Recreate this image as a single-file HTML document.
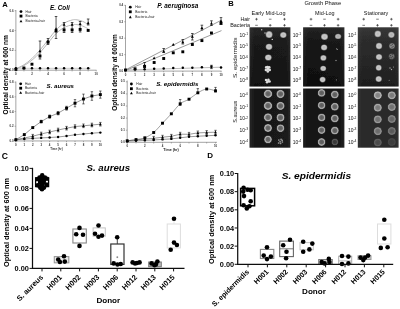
<!DOCTYPE html>
<html><head><meta charset="utf-8"><title>Figure</title>
<style>
html,body{margin:0;padding:0;background:#fff;}
body{width:400px;height:309px;overflow:hidden;font-family:'Liberation Sans', sans-serif;}
svg{display:block;}
svg text{font-family:'Liberation Sans', sans-serif;}
</style></head>
<body>
<svg width="400" height="309" viewBox="0 0 400 309">
<defs><filter id="soft" x="0" y="0" width="400" height="309" filterUnits="userSpaceOnUse"><feGaussianBlur stdDeviation="0.38"/></filter></defs>
<g filter="url(#soft)">
<rect width="400" height="309" fill="#fff"/>
<g id="panelA">
<text x="2.2" y="7.2" font-size="7.6" font-weight="bold" font-style="normal" text-anchor="start" fill="#000" >A</text>
<text x="8.0" y="74.8" font-size="6.6" font-weight="bold" font-style="normal" text-anchor="middle" fill="#000" transform="rotate(-90 8.0 74.8)" >Optical density at 600 nm</text>
<text x="117.3" y="72.4" font-size="6.5" font-weight="bold" font-style="normal" text-anchor="middle" fill="#000" transform="rotate(-90 117.3 72.4)" >Optical density at 600nm</text>
<line x1="15.9" y1="10" x2="15.9" y2="71.4" stroke="#666" stroke-width="0.6" />
<line x1="14.9" y1="70.2" x2="96.5" y2="70.2" stroke="#666" stroke-width="0.6" />
<line x1="14.6" y1="70.2" x2="15.9" y2="70.2" stroke="#666" stroke-width="0.5" />
<text x="13.600000000000001" y="71.2" font-size="2.9" font-weight="bold" font-style="normal" text-anchor="end" fill="#333" >0.0</text>
<line x1="14.6" y1="50.400000000000006" x2="15.9" y2="50.400000000000006" stroke="#666" stroke-width="0.5" />
<text x="13.600000000000001" y="51.400000000000006" font-size="2.9" font-weight="bold" font-style="normal" text-anchor="end" fill="#333" >0.2</text>
<line x1="14.6" y1="30.6" x2="15.9" y2="30.6" stroke="#666" stroke-width="0.5" />
<text x="13.600000000000001" y="31.6" font-size="2.9" font-weight="bold" font-style="normal" text-anchor="end" fill="#333" >0.4</text>
<line x1="14.6" y1="10.800000000000004" x2="15.9" y2="10.800000000000004" stroke="#666" stroke-width="0.5" />
<text x="13.600000000000001" y="11.800000000000004" font-size="2.9" font-weight="bold" font-style="normal" text-anchor="end" fill="#333" >0.6</text>
<line x1="15.9" y1="70.2" x2="15.9" y2="71.4" stroke="#666" stroke-width="0.5" />
<line x1="23.93" y1="70.2" x2="23.93" y2="71.4" stroke="#666" stroke-width="0.5" />
<line x1="31.96" y1="70.2" x2="31.96" y2="71.4" stroke="#666" stroke-width="0.5" />
<line x1="39.989999999999995" y1="70.2" x2="39.989999999999995" y2="71.4" stroke="#666" stroke-width="0.5" />
<line x1="48.019999999999996" y1="70.2" x2="48.019999999999996" y2="71.4" stroke="#666" stroke-width="0.5" />
<line x1="56.05" y1="70.2" x2="56.05" y2="71.4" stroke="#666" stroke-width="0.5" />
<line x1="64.08" y1="70.2" x2="64.08" y2="71.4" stroke="#666" stroke-width="0.5" />
<line x1="72.11" y1="70.2" x2="72.11" y2="71.4" stroke="#666" stroke-width="0.5" />
<line x1="80.14" y1="70.2" x2="80.14" y2="71.4" stroke="#666" stroke-width="0.5" />
<line x1="88.17" y1="70.2" x2="88.17" y2="71.4" stroke="#666" stroke-width="0.5" />
<line x1="96.2" y1="70.2" x2="96.2" y2="71.4" stroke="#666" stroke-width="0.5" />
<text x="15.9" y="75.2" font-size="2.9" font-weight="bold" font-style="normal" text-anchor="middle" fill="#333" >0</text>
<text x="31.96" y="75.2" font-size="2.9" font-weight="bold" font-style="normal" text-anchor="middle" fill="#333" >2</text>
<text x="48.019999999999996" y="75.2" font-size="2.9" font-weight="bold" font-style="normal" text-anchor="middle" fill="#333" >4</text>
<text x="64.08" y="75.2" font-size="2.9" font-weight="bold" font-style="normal" text-anchor="middle" fill="#333" >6</text>
<text x="80.14" y="75.2" font-size="2.9" font-weight="bold" font-style="normal" text-anchor="middle" fill="#333" >8</text>
<text x="96.2" y="75.2" font-size="2.9" font-weight="bold" font-style="normal" text-anchor="middle" fill="#333" >10</text>
<text x="59.8" y="10.3" font-size="6.35" font-weight="bold" font-style="italic" text-anchor="middle" fill="#000" >E. Coli</text>
<circle cx="21.00" cy="11.60" r="1.4" fill="#000" />
<rect x="19.60" y="14.70" width="2.8" height="2.8" fill="#000"/>
<path d="M21.00 19.77 L22.43 22.37 L19.57 22.37 Z" fill="#000"/>
<text x="25.5" y="12.7" font-size="3.3" font-weight="normal" font-style="normal" text-anchor="start" fill="#222" >Hair</text>
<text x="25.5" y="17.200000000000003" font-size="3.3" font-weight="normal" font-style="normal" text-anchor="start" fill="#222" >Bacteria</text>
<text x="25.5" y="22.3" font-size="3.3" font-weight="normal" font-style="normal" text-anchor="start" fill="#222" >Bacteria+hair</text>
<path d="M15.90 68.60 C17.24 67.97 21.25 66.48 23.93 64.80 C26.61 63.12 29.28 60.97 31.96 58.50 C34.64 56.03 37.31 53.08 39.99 50.00 C42.67 46.92 45.34 43.33 48.02 40.00 C50.70 36.67 53.37 32.80 56.05 30.00 C58.73 27.20 61.40 24.87 64.08 23.20 C66.76 21.53 69.97 20.57 72.11 20.00 C74.25 19.43 75.19 19.58 76.93 19.80 C78.67 20.02 80.68 20.52 82.55 21.30 C84.42 22.08 87.23 23.97 88.17 24.50" fill="none" stroke="#b8b8b8" stroke-width="1.0"/>
<path d="M15.90 68.80 C17.24 68.27 21.25 67.03 23.93 65.60 C26.61 64.17 29.28 62.37 31.96 60.20 C34.64 58.03 37.31 55.47 39.99 52.60 C42.67 49.73 45.34 46.17 48.02 43.00 C50.70 39.83 53.37 36.17 56.05 33.60 C58.73 31.03 61.40 29.07 64.08 27.60 C66.76 26.13 69.97 25.30 72.11 24.80 C74.25 24.30 75.19 24.40 76.93 24.60 C78.67 24.80 80.68 25.30 82.55 26.00 C84.42 26.70 87.23 28.33 88.17 28.80" fill="none" stroke="#b8b8b8" stroke-width="1.0"/>
<line x1="15.9" y1="68.3" x2="90.57900000000001" y2="68.3" stroke="#999" stroke-width="0.5" />
<line x1="39.989999999999995" y1="41" x2="39.989999999999995" y2="59" stroke="#111" stroke-width="0.7" />
<line x1="38.69" y1="41" x2="41.28999999999999" y2="41" stroke="#111" stroke-width="0.7" />
<line x1="38.69" y1="59" x2="41.28999999999999" y2="59" stroke="#111" stroke-width="0.7" />
<line x1="48.019999999999996" y1="38.5" x2="48.019999999999996" y2="44.5" stroke="#111" stroke-width="0.7" />
<line x1="46.72" y1="38.5" x2="49.31999999999999" y2="38.5" stroke="#111" stroke-width="0.7" />
<line x1="46.72" y1="44.5" x2="49.31999999999999" y2="44.5" stroke="#111" stroke-width="0.7" />
<line x1="56.05" y1="16.5" x2="56.05" y2="38.5" stroke="#111" stroke-width="0.7" />
<line x1="54.75" y1="16.5" x2="57.349999999999994" y2="16.5" stroke="#111" stroke-width="0.7" />
<line x1="54.75" y1="38.5" x2="57.349999999999994" y2="38.5" stroke="#111" stroke-width="0.7" />
<line x1="64.08" y1="22.5" x2="64.08" y2="32.5" stroke="#111" stroke-width="0.7" />
<line x1="62.78" y1="22.5" x2="65.38" y2="22.5" stroke="#111" stroke-width="0.7" />
<line x1="62.78" y1="32.5" x2="65.38" y2="32.5" stroke="#111" stroke-width="0.7" />
<line x1="72.11" y1="22.5" x2="72.11" y2="32.5" stroke="#111" stroke-width="0.7" />
<line x1="70.81" y1="22.5" x2="73.41" y2="22.5" stroke="#111" stroke-width="0.7" />
<line x1="70.81" y1="32.5" x2="73.41" y2="32.5" stroke="#111" stroke-width="0.7" />
<line x1="80.14" y1="21.5" x2="80.14" y2="32" stroke="#111" stroke-width="0.7" />
<line x1="78.84" y1="21.5" x2="81.44" y2="21.5" stroke="#111" stroke-width="0.7" />
<line x1="78.84" y1="32" x2="81.44" y2="32" stroke="#111" stroke-width="0.7" />
<line x1="88.17" y1="19" x2="88.17" y2="25" stroke="#111" stroke-width="0.7" />
<line x1="86.87" y1="19" x2="89.47" y2="19" stroke="#111" stroke-width="0.7" />
<line x1="86.87" y1="25" x2="89.47" y2="25" stroke="#111" stroke-width="0.7" />
<circle cx="15.90" cy="68.30" r="1.25" fill="#000" />
<circle cx="23.93" cy="68.30" r="1.25" fill="#000" />
<circle cx="31.96" cy="68.30" r="1.25" fill="#000" />
<circle cx="39.99" cy="68.30" r="1.25" fill="#000" />
<circle cx="48.02" cy="68.30" r="1.25" fill="#000" />
<circle cx="56.05" cy="68.30" r="1.25" fill="#000" />
<circle cx="64.08" cy="68.30" r="1.25" fill="#000" />
<circle cx="72.11" cy="68.30" r="1.25" fill="#000" />
<circle cx="80.14" cy="68.30" r="1.25" fill="#000" />
<circle cx="88.17" cy="68.30" r="1.25" fill="#000" />
<rect x="14.45" y="67.95" width="2.9" height="2.9" fill="#000"/>
<rect x="22.48" y="66.55" width="2.9" height="2.9" fill="#000"/>
<rect x="30.51" y="62.75" width="2.9" height="2.9" fill="#000"/>
<rect x="38.54" y="54.55" width="2.9" height="2.9" fill="#000"/>
<rect x="46.57" y="40.75" width="2.9" height="2.9" fill="#000"/>
<rect x="54.60" y="29.55" width="2.9" height="2.9" fill="#000"/>
<rect x="62.63" y="28.45" width="2.9" height="2.9" fill="#000"/>
<rect x="70.66" y="28.45" width="2.9" height="2.9" fill="#000"/>
<rect x="78.69" y="27.95" width="2.9" height="2.9" fill="#000"/>
<rect x="86.72" y="28.95" width="2.9" height="2.9" fill="#000"/>
<path d="M39.99 49.52 L41.47 52.22 L38.50 52.22 Z" fill="#000"/>
<path d="M48.02 39.52 L49.50 42.22 L46.53 42.22 Z" fill="#000"/>
<path d="M56.05 27.32 L57.53 30.02 L54.56 30.02 Z" fill="#000"/>
<path d="M64.08 23.12 L65.56 25.82 L62.59 25.82 Z" fill="#000"/>
<path d="M72.11 23.12 L73.59 25.82 L70.62 25.82 Z" fill="#000"/>
<path d="M80.14 22.41 L81.62 25.11 L78.66 25.11 Z" fill="#000"/>
<path d="M88.17 21.52 L89.66 24.21 L86.69 24.21 Z" fill="#000"/>
<line x1="125.5" y1="5" x2="125.5" y2="72.3" stroke="#666" stroke-width="0.6" />
<line x1="124.5" y1="71.1" x2="221.6" y2="71.1" stroke="#666" stroke-width="0.6" />
<line x1="124.2" y1="71.1" x2="125.5" y2="71.1" stroke="#666" stroke-width="0.5" />
<text x="123.2" y="72.1" font-size="2.9" font-weight="bold" font-style="normal" text-anchor="end" fill="#333" >0.0</text>
<line x1="124.2" y1="54.64999999999999" x2="125.5" y2="54.64999999999999" stroke="#666" stroke-width="0.5" />
<text x="123.2" y="55.64999999999999" font-size="2.9" font-weight="bold" font-style="normal" text-anchor="end" fill="#333" >0.1</text>
<line x1="124.2" y1="38.199999999999996" x2="125.5" y2="38.199999999999996" stroke="#666" stroke-width="0.5" />
<text x="123.2" y="39.199999999999996" font-size="2.9" font-weight="bold" font-style="normal" text-anchor="end" fill="#333" >0.2</text>
<line x1="124.2" y1="21.749999999999993" x2="125.5" y2="21.749999999999993" stroke="#666" stroke-width="0.5" />
<text x="123.2" y="22.749999999999993" font-size="2.9" font-weight="bold" font-style="normal" text-anchor="end" fill="#333" >0.3</text>
<line x1="124.2" y1="5.299999999999997" x2="125.5" y2="5.299999999999997" stroke="#666" stroke-width="0.5" />
<text x="123.2" y="6.299999999999997" font-size="2.9" font-weight="bold" font-style="normal" text-anchor="end" fill="#333" >0.4</text>
<line x1="125.5" y1="71.1" x2="125.5" y2="72.3" stroke="#666" stroke-width="0.5" />
<text x="125.5" y="75.89999999999999" font-size="2.9" font-weight="bold" font-style="normal" text-anchor="middle" fill="#333" >0</text>
<line x1="135.05" y1="71.1" x2="135.05" y2="72.3" stroke="#666" stroke-width="0.5" />
<text x="135.05" y="75.89999999999999" font-size="2.9" font-weight="bold" font-style="normal" text-anchor="middle" fill="#333" >1</text>
<line x1="144.6" y1="71.1" x2="144.6" y2="72.3" stroke="#666" stroke-width="0.5" />
<text x="144.6" y="75.89999999999999" font-size="2.9" font-weight="bold" font-style="normal" text-anchor="middle" fill="#333" >2</text>
<line x1="154.15" y1="71.1" x2="154.15" y2="72.3" stroke="#666" stroke-width="0.5" />
<text x="154.15" y="75.89999999999999" font-size="2.9" font-weight="bold" font-style="normal" text-anchor="middle" fill="#333" >3</text>
<line x1="163.7" y1="71.1" x2="163.7" y2="72.3" stroke="#666" stroke-width="0.5" />
<text x="163.7" y="75.89999999999999" font-size="2.9" font-weight="bold" font-style="normal" text-anchor="middle" fill="#333" >4</text>
<line x1="173.25" y1="71.1" x2="173.25" y2="72.3" stroke="#666" stroke-width="0.5" />
<text x="173.25" y="75.89999999999999" font-size="2.9" font-weight="bold" font-style="normal" text-anchor="middle" fill="#333" >5</text>
<line x1="182.8" y1="71.1" x2="182.8" y2="72.3" stroke="#666" stroke-width="0.5" />
<text x="182.8" y="75.89999999999999" font-size="2.9" font-weight="bold" font-style="normal" text-anchor="middle" fill="#333" >6</text>
<line x1="192.35000000000002" y1="71.1" x2="192.35000000000002" y2="72.3" stroke="#666" stroke-width="0.5" />
<text x="192.35000000000002" y="75.89999999999999" font-size="2.9" font-weight="bold" font-style="normal" text-anchor="middle" fill="#333" >7</text>
<line x1="201.9" y1="71.1" x2="201.9" y2="72.3" stroke="#666" stroke-width="0.5" />
<text x="201.9" y="75.89999999999999" font-size="2.9" font-weight="bold" font-style="normal" text-anchor="middle" fill="#333" >8</text>
<line x1="211.45" y1="71.1" x2="211.45" y2="72.3" stroke="#666" stroke-width="0.5" />
<text x="211.45" y="75.89999999999999" font-size="2.9" font-weight="bold" font-style="normal" text-anchor="middle" fill="#333" >9</text>
<line x1="221.0" y1="71.1" x2="221.0" y2="72.3" stroke="#666" stroke-width="0.5" />
<text x="221.0" y="75.89999999999999" font-size="2.9" font-weight="bold" font-style="normal" text-anchor="middle" fill="#333" >10</text>
<text x="157.3" y="7.5" font-size="6.4" font-weight="bold" font-style="italic" text-anchor="start" fill="#000" >P. aeruginosa</text>
<circle cx="130.30" cy="7.20" r="1.4" fill="#000" />
<rect x="128.90" y="10.40" width="2.8" height="2.8" fill="#000"/>
<path d="M130.30 15.57 L131.73 18.17 L128.87 18.17 Z" fill="#000"/>
<text x="135.2" y="8.3" font-size="3.3" font-weight="normal" font-style="normal" text-anchor="start" fill="#222" >Hair</text>
<text x="135.2" y="12.9" font-size="3.3" font-weight="normal" font-style="normal" text-anchor="start" fill="#222" >Bacteria</text>
<text x="135.2" y="18.1" font-size="3.3" font-weight="normal" font-style="normal" text-anchor="start" fill="#222" >Bacteria+hair</text>
<line x1="125.7" y1="69.8" x2="221.5" y2="20.1" stroke="#555" stroke-width="0.6" />
<line x1="126.0" y1="70.3" x2="221.5" y2="30.6" stroke="#555" stroke-width="0.6" />
<line x1="125.5" y1="70.0" x2="221.5" y2="67.2" stroke="#777" stroke-width="0.5" />
<line x1="144.6" y1="62.5" x2="144.6" y2="67.5" stroke="#111" stroke-width="0.7" />
<line x1="143.29999999999998" y1="62.5" x2="145.9" y2="62.5" stroke="#111" stroke-width="0.7" />
<line x1="143.29999999999998" y1="67.5" x2="145.9" y2="67.5" stroke="#111" stroke-width="0.7" />
<line x1="163.7" y1="48.5" x2="163.7" y2="52.5" stroke="#111" stroke-width="0.7" />
<line x1="162.39999999999998" y1="48.5" x2="165.0" y2="48.5" stroke="#111" stroke-width="0.7" />
<line x1="162.39999999999998" y1="52.5" x2="165.0" y2="52.5" stroke="#111" stroke-width="0.7" />
<line x1="182.8" y1="39.5" x2="182.8" y2="44" stroke="#111" stroke-width="0.7" />
<line x1="181.5" y1="39.5" x2="184.10000000000002" y2="39.5" stroke="#111" stroke-width="0.7" />
<line x1="181.5" y1="44" x2="184.10000000000002" y2="44" stroke="#111" stroke-width="0.7" />
<line x1="192.35000000000002" y1="33.5" x2="192.35000000000002" y2="40" stroke="#111" stroke-width="0.7" />
<line x1="191.05" y1="33.5" x2="193.65000000000003" y2="33.5" stroke="#111" stroke-width="0.7" />
<line x1="191.05" y1="40" x2="193.65000000000003" y2="40" stroke="#111" stroke-width="0.7" />
<line x1="201.9" y1="25.2" x2="201.9" y2="30" stroke="#111" stroke-width="0.7" />
<line x1="200.6" y1="25.2" x2="203.20000000000002" y2="25.2" stroke="#111" stroke-width="0.7" />
<line x1="200.6" y1="30" x2="203.20000000000002" y2="30" stroke="#111" stroke-width="0.7" />
<line x1="211.45" y1="20.8" x2="211.45" y2="25.5" stroke="#111" stroke-width="0.7" />
<line x1="210.14999999999998" y1="20.8" x2="212.75" y2="20.8" stroke="#111" stroke-width="0.7" />
<line x1="210.14999999999998" y1="25.5" x2="212.75" y2="25.5" stroke="#111" stroke-width="0.7" />
<line x1="221.0" y1="17.6" x2="221.0" y2="24.5" stroke="#111" stroke-width="0.7" />
<line x1="219.7" y1="17.6" x2="222.3" y2="17.6" stroke="#111" stroke-width="0.7" />
<line x1="219.7" y1="24.5" x2="222.3" y2="24.5" stroke="#111" stroke-width="0.7" />
<line x1="211.45" y1="65.3" x2="211.45" y2="68.6" stroke="#111" stroke-width="0.7" />
<line x1="210.14999999999998" y1="65.3" x2="212.75" y2="65.3" stroke="#111" stroke-width="0.7" />
<line x1="210.14999999999998" y1="68.6" x2="212.75" y2="68.6" stroke="#111" stroke-width="0.7" />
<circle cx="125.50" cy="70.00" r="1.25" fill="#000" />
<circle cx="135.05" cy="69.50" r="1.25" fill="#000" />
<circle cx="144.60" cy="69.20" r="1.25" fill="#000" />
<circle cx="154.15" cy="68.80" r="1.25" fill="#000" />
<circle cx="163.70" cy="68.40" r="1.25" fill="#000" />
<circle cx="173.25" cy="68.00" r="1.25" fill="#000" />
<circle cx="182.80" cy="67.70" r="1.25" fill="#000" />
<circle cx="192.35" cy="67.70" r="1.25" fill="#000" />
<circle cx="201.90" cy="67.30" r="1.25" fill="#000" />
<circle cx="211.45" cy="66.80" r="1.25" fill="#000" />
<circle cx="221.00" cy="67.60" r="1.25" fill="#000" />
<rect x="124.05" y="68.55" width="2.9" height="2.9" fill="#000"/>
<rect x="133.60" y="67.35" width="2.9" height="2.9" fill="#000"/>
<rect x="143.15" y="64.95" width="2.9" height="2.9" fill="#000"/>
<rect x="152.70" y="61.05" width="2.9" height="2.9" fill="#000"/>
<rect x="162.25" y="57.05" width="2.9" height="2.9" fill="#000"/>
<rect x="171.80" y="51.35" width="2.9" height="2.9" fill="#000"/>
<rect x="181.35" y="50.35" width="2.9" height="2.9" fill="#000"/>
<rect x="190.90" y="43.05" width="2.9" height="2.9" fill="#000"/>
<rect x="200.45" y="39.15" width="2.9" height="2.9" fill="#000"/>
<rect x="210.00" y="31.55" width="2.9" height="2.9" fill="#000"/>
<rect x="219.55" y="21.85" width="2.9" height="2.9" fill="#000"/>
<path d="M144.60 63.81 L146.09 66.52 L143.11 66.52 Z" fill="#000"/>
<path d="M154.15 56.52 L155.64 59.22 L152.66 59.22 Z" fill="#000"/>
<path d="M163.70 49.72 L165.19 52.42 L162.21 52.42 Z" fill="#000"/>
<path d="M173.25 43.12 L174.74 45.82 L171.76 45.82 Z" fill="#000"/>
<path d="M182.80 40.52 L184.29 43.22 L181.31 43.22 Z" fill="#000"/>
<path d="M192.35 35.12 L193.84 37.82 L190.87 37.82 Z" fill="#000"/>
<path d="M201.90 26.41 L203.39 29.11 L200.41 29.11 Z" fill="#000"/>
<path d="M211.45 21.91 L212.94 24.61 L209.96 24.61 Z" fill="#000"/>
<path d="M221.00 19.52 L222.49 22.21 L219.51 22.21 Z" fill="#000"/>
<line x1="15.85" y1="81.5" x2="15.85" y2="142.14999999999998" stroke="#666" stroke-width="0.6" />
<line x1="14.85" y1="140.95" x2="101.2" y2="140.95" stroke="#666" stroke-width="0.6" />
<line x1="14.549999999999999" y1="140.95" x2="15.85" y2="140.95" stroke="#666" stroke-width="0.5" />
<text x="13.55" y="141.95" font-size="2.9" font-weight="bold" font-style="normal" text-anchor="end" fill="#333" >0.0</text>
<line x1="14.549999999999999" y1="126.24999999999999" x2="15.85" y2="126.24999999999999" stroke="#666" stroke-width="0.5" />
<text x="13.55" y="127.24999999999999" font-size="2.9" font-weight="bold" font-style="normal" text-anchor="end" fill="#333" >0.2</text>
<line x1="14.549999999999999" y1="111.54999999999998" x2="15.85" y2="111.54999999999998" stroke="#666" stroke-width="0.5" />
<text x="13.55" y="112.54999999999998" font-size="2.9" font-weight="bold" font-style="normal" text-anchor="end" fill="#333" >0.4</text>
<line x1="14.549999999999999" y1="96.85" x2="15.85" y2="96.85" stroke="#666" stroke-width="0.5" />
<text x="13.55" y="97.85" font-size="2.9" font-weight="bold" font-style="normal" text-anchor="end" fill="#333" >0.6</text>
<line x1="14.549999999999999" y1="82.14999999999998" x2="15.85" y2="82.14999999999998" stroke="#666" stroke-width="0.5" />
<text x="13.55" y="83.14999999999998" font-size="2.9" font-weight="bold" font-style="normal" text-anchor="end" fill="#333" >0.8</text>
<line x1="15.85" y1="140.95" x2="15.85" y2="142.14999999999998" stroke="#666" stroke-width="0.5" />
<text x="15.85" y="145.54999999999998" font-size="2.9" font-weight="bold" font-style="normal" text-anchor="middle" fill="#333" >0</text>
<line x1="24.299999999999997" y1="140.95" x2="24.299999999999997" y2="142.14999999999998" stroke="#666" stroke-width="0.5" />
<text x="24.299999999999997" y="145.54999999999998" font-size="2.9" font-weight="bold" font-style="normal" text-anchor="middle" fill="#333" >1</text>
<line x1="32.75" y1="140.95" x2="32.75" y2="142.14999999999998" stroke="#666" stroke-width="0.5" />
<text x="32.75" y="145.54999999999998" font-size="2.9" font-weight="bold" font-style="normal" text-anchor="middle" fill="#333" >2</text>
<line x1="41.199999999999996" y1="140.95" x2="41.199999999999996" y2="142.14999999999998" stroke="#666" stroke-width="0.5" />
<text x="41.199999999999996" y="145.54999999999998" font-size="2.9" font-weight="bold" font-style="normal" text-anchor="middle" fill="#333" >3</text>
<line x1="49.65" y1="140.95" x2="49.65" y2="142.14999999999998" stroke="#666" stroke-width="0.5" />
<text x="49.65" y="145.54999999999998" font-size="2.9" font-weight="bold" font-style="normal" text-anchor="middle" fill="#333" >4</text>
<line x1="58.1" y1="140.95" x2="58.1" y2="142.14999999999998" stroke="#666" stroke-width="0.5" />
<text x="58.1" y="145.54999999999998" font-size="2.9" font-weight="bold" font-style="normal" text-anchor="middle" fill="#333" >5</text>
<line x1="66.55" y1="140.95" x2="66.55" y2="142.14999999999998" stroke="#666" stroke-width="0.5" />
<text x="66.55" y="145.54999999999998" font-size="2.9" font-weight="bold" font-style="normal" text-anchor="middle" fill="#333" >6</text>
<line x1="74.99999999999999" y1="140.95" x2="74.99999999999999" y2="142.14999999999998" stroke="#666" stroke-width="0.5" />
<text x="74.99999999999999" y="145.54999999999998" font-size="2.9" font-weight="bold" font-style="normal" text-anchor="middle" fill="#333" >7</text>
<line x1="83.44999999999999" y1="140.95" x2="83.44999999999999" y2="142.14999999999998" stroke="#666" stroke-width="0.5" />
<text x="83.44999999999999" y="145.54999999999998" font-size="2.9" font-weight="bold" font-style="normal" text-anchor="middle" fill="#333" >8</text>
<line x1="91.89999999999999" y1="140.95" x2="91.89999999999999" y2="142.14999999999998" stroke="#666" stroke-width="0.5" />
<text x="91.89999999999999" y="145.54999999999998" font-size="2.9" font-weight="bold" font-style="normal" text-anchor="middle" fill="#333" >9</text>
<line x1="100.35" y1="140.95" x2="100.35" y2="142.14999999999998" stroke="#666" stroke-width="0.5" />
<text x="100.35" y="145.54999999999998" font-size="2.9" font-weight="bold" font-style="normal" text-anchor="middle" fill="#333" >10</text>
<text x="56.5" y="149.7" font-size="2.9" font-weight="bold" font-style="normal" text-anchor="middle" fill="#333" >Time (hr)</text>
<text x="60.3" y="87.5" font-size="6.1" font-weight="bold" font-style="italic" text-anchor="middle" fill="#000" >S. aureus</text>
<circle cx="20.70" cy="83.80" r="1.4" fill="#000" />
<rect x="19.30" y="86.80" width="2.8" height="2.8" fill="#000"/>
<path d="M20.70 91.17 L22.13 93.77 L19.27 93.77 Z" fill="#000"/>
<text x="24.9" y="84.89999999999999" font-size="3.3" font-weight="normal" font-style="normal" text-anchor="start" fill="#222" >Hair</text>
<text x="24.9" y="89.3" font-size="3.3" font-weight="normal" font-style="normal" text-anchor="start" fill="#222" >Bacteria</text>
<text x="24.9" y="93.69999999999999" font-size="3.3" font-weight="normal" font-style="normal" text-anchor="start" fill="#222" >Bacteria+hair</text>
<path d="M15.85 139.70 L24.30 134.60 L32.75 127.60 L41.20 121.60 L49.65 116.60 L58.10 113.20 L66.55 108.20 L75.00 103.20 L83.45 99.00 L91.90 96.00 L100.35 94.60" fill="none" stroke="#444" stroke-width="0.55"/>
<path d="M15.85 139.70 L24.30 138.00 L32.75 136.20 L41.20 134.00 L49.65 132.00 L58.10 130.00 L66.55 128.20 L75.00 126.60 L83.45 125.80 L91.90 125.00 L100.35 124.20" fill="none" stroke="#444" stroke-width="0.55"/>
<path d="M15.85 139.70 L24.30 139.10 L32.75 138.40 L41.20 137.90 L49.65 137.50 L58.10 137.00 L66.55 136.00 L75.00 134.80 L83.45 134.00 L91.90 133.20 L100.35 132.60" fill="none" stroke="#444" stroke-width="0.55"/>
<line x1="41.199999999999996" y1="120.3" x2="41.199999999999996" y2="122.89999999999999" stroke="#111" stroke-width="0.6" />
<line x1="39.99999999999999" y1="120.3" x2="42.4" y2="120.3" stroke="#111" stroke-width="0.6" />
<line x1="39.99999999999999" y1="122.89999999999999" x2="42.4" y2="122.89999999999999" stroke="#111" stroke-width="0.6" />
<line x1="49.65" y1="115.0" x2="49.65" y2="118.19999999999999" stroke="#111" stroke-width="0.6" />
<line x1="48.449999999999996" y1="115.0" x2="50.85" y2="115.0" stroke="#111" stroke-width="0.6" />
<line x1="48.449999999999996" y1="118.19999999999999" x2="50.85" y2="118.19999999999999" stroke="#111" stroke-width="0.6" />
<line x1="58.1" y1="111.60000000000001" x2="58.1" y2="114.8" stroke="#111" stroke-width="0.6" />
<line x1="56.9" y1="111.60000000000001" x2="59.300000000000004" y2="111.60000000000001" stroke="#111" stroke-width="0.6" />
<line x1="56.9" y1="114.8" x2="59.300000000000004" y2="114.8" stroke="#111" stroke-width="0.6" />
<line x1="66.55" y1="106.3" x2="66.55" y2="110.10000000000001" stroke="#111" stroke-width="0.6" />
<line x1="65.35" y1="106.3" x2="67.75" y2="106.3" stroke="#111" stroke-width="0.6" />
<line x1="65.35" y1="110.10000000000001" x2="67.75" y2="110.10000000000001" stroke="#111" stroke-width="0.6" />
<line x1="74.99999999999999" y1="99.60000000000001" x2="74.99999999999999" y2="106.8" stroke="#111" stroke-width="0.6" />
<line x1="73.79999999999998" y1="99.60000000000001" x2="76.19999999999999" y2="99.60000000000001" stroke="#111" stroke-width="0.6" />
<line x1="73.79999999999998" y1="106.8" x2="76.19999999999999" y2="106.8" stroke="#111" stroke-width="0.6" />
<line x1="83.44999999999999" y1="94.1" x2="83.44999999999999" y2="103.9" stroke="#111" stroke-width="0.6" />
<line x1="82.24999999999999" y1="94.1" x2="84.64999999999999" y2="94.1" stroke="#111" stroke-width="0.6" />
<line x1="82.24999999999999" y1="103.9" x2="84.64999999999999" y2="103.9" stroke="#111" stroke-width="0.6" />
<line x1="91.89999999999999" y1="91.7" x2="91.89999999999999" y2="100.3" stroke="#111" stroke-width="0.6" />
<line x1="90.69999999999999" y1="91.7" x2="93.1" y2="91.7" stroke="#111" stroke-width="0.6" />
<line x1="90.69999999999999" y1="100.3" x2="93.1" y2="100.3" stroke="#111" stroke-width="0.6" />
<line x1="100.35" y1="91.0" x2="100.35" y2="98.19999999999999" stroke="#111" stroke-width="0.6" />
<line x1="99.14999999999999" y1="91.0" x2="101.55" y2="91.0" stroke="#111" stroke-width="0.6" />
<line x1="99.14999999999999" y1="98.19999999999999" x2="101.55" y2="98.19999999999999" stroke="#111" stroke-width="0.6" />
<line x1="32.75" y1="134.39999999999998" x2="32.75" y2="138.0" stroke="#111" stroke-width="0.6" />
<line x1="31.55" y1="134.39999999999998" x2="33.95" y2="134.39999999999998" stroke="#111" stroke-width="0.6" />
<line x1="31.55" y1="138.0" x2="33.95" y2="138.0" stroke="#111" stroke-width="0.6" />
<line x1="41.199999999999996" y1="132.2" x2="41.199999999999996" y2="135.8" stroke="#111" stroke-width="0.6" />
<line x1="39.99999999999999" y1="132.2" x2="42.4" y2="132.2" stroke="#111" stroke-width="0.6" />
<line x1="39.99999999999999" y1="135.8" x2="42.4" y2="135.8" stroke="#111" stroke-width="0.6" />
<line x1="49.65" y1="130.2" x2="49.65" y2="133.8" stroke="#111" stroke-width="0.6" />
<line x1="48.449999999999996" y1="130.2" x2="50.85" y2="130.2" stroke="#111" stroke-width="0.6" />
<line x1="48.449999999999996" y1="133.8" x2="50.85" y2="133.8" stroke="#111" stroke-width="0.6" />
<line x1="58.1" y1="128.2" x2="58.1" y2="131.8" stroke="#111" stroke-width="0.6" />
<line x1="56.9" y1="128.2" x2="59.300000000000004" y2="128.2" stroke="#111" stroke-width="0.6" />
<line x1="56.9" y1="131.8" x2="59.300000000000004" y2="131.8" stroke="#111" stroke-width="0.6" />
<line x1="66.55" y1="126.39999999999999" x2="66.55" y2="130.0" stroke="#111" stroke-width="0.6" />
<line x1="65.35" y1="126.39999999999999" x2="67.75" y2="126.39999999999999" stroke="#111" stroke-width="0.6" />
<line x1="65.35" y1="130.0" x2="67.75" y2="130.0" stroke="#111" stroke-width="0.6" />
<line x1="74.99999999999999" y1="124.8" x2="74.99999999999999" y2="128.4" stroke="#111" stroke-width="0.6" />
<line x1="73.79999999999998" y1="124.8" x2="76.19999999999999" y2="124.8" stroke="#111" stroke-width="0.6" />
<line x1="73.79999999999998" y1="128.4" x2="76.19999999999999" y2="128.4" stroke="#111" stroke-width="0.6" />
<line x1="83.44999999999999" y1="124.0" x2="83.44999999999999" y2="127.6" stroke="#111" stroke-width="0.6" />
<line x1="82.24999999999999" y1="124.0" x2="84.64999999999999" y2="124.0" stroke="#111" stroke-width="0.6" />
<line x1="82.24999999999999" y1="127.6" x2="84.64999999999999" y2="127.6" stroke="#111" stroke-width="0.6" />
<line x1="91.89999999999999" y1="123.2" x2="91.89999999999999" y2="126.8" stroke="#111" stroke-width="0.6" />
<line x1="90.69999999999999" y1="123.2" x2="93.1" y2="123.2" stroke="#111" stroke-width="0.6" />
<line x1="90.69999999999999" y1="126.8" x2="93.1" y2="126.8" stroke="#111" stroke-width="0.6" />
<line x1="100.35" y1="122.4" x2="100.35" y2="126.0" stroke="#111" stroke-width="0.6" />
<line x1="99.14999999999999" y1="122.4" x2="101.55" y2="122.4" stroke="#111" stroke-width="0.6" />
<line x1="99.14999999999999" y1="126.0" x2="101.55" y2="126.0" stroke="#111" stroke-width="0.6" />
<rect x="14.40" y="138.25" width="2.9" height="2.9" fill="#000"/>
<rect x="22.85" y="133.15" width="2.9" height="2.9" fill="#000"/>
<rect x="31.30" y="126.15" width="2.9" height="2.9" fill="#000"/>
<rect x="39.75" y="120.15" width="2.9" height="2.9" fill="#000"/>
<rect x="48.20" y="115.15" width="2.9" height="2.9" fill="#000"/>
<rect x="56.65" y="111.75" width="2.9" height="2.9" fill="#000"/>
<rect x="65.10" y="106.75" width="2.9" height="2.9" fill="#000"/>
<rect x="73.55" y="101.75" width="2.9" height="2.9" fill="#000"/>
<rect x="82.00" y="97.55" width="2.9" height="2.9" fill="#000"/>
<rect x="90.45" y="94.55" width="2.9" height="2.9" fill="#000"/>
<rect x="98.90" y="93.15" width="2.9" height="2.9" fill="#000"/>
<path d="M15.85 138.27 L17.28 140.87 L14.42 140.87 Z" fill="#000"/>
<path d="M24.30 136.57 L25.73 139.17 L22.87 139.17 Z" fill="#000"/>
<path d="M32.75 134.77 L34.18 137.37 L31.32 137.37 Z" fill="#000"/>
<path d="M41.20 132.57 L42.63 135.17 L39.77 135.17 Z" fill="#000"/>
<path d="M49.65 130.57 L51.08 133.17 L48.22 133.17 Z" fill="#000"/>
<path d="M58.10 128.57 L59.53 131.17 L56.67 131.17 Z" fill="#000"/>
<path d="M66.55 126.77 L67.98 129.37 L65.12 129.37 Z" fill="#000"/>
<path d="M75.00 125.17 L76.43 127.77 L73.57 127.77 Z" fill="#000"/>
<path d="M83.45 124.37 L84.88 126.97 L82.02 126.97 Z" fill="#000"/>
<path d="M91.90 123.57 L93.33 126.17 L90.47 126.17 Z" fill="#000"/>
<path d="M100.35 122.77 L101.78 125.37 L98.92 125.37 Z" fill="#000"/>
<circle cx="15.85" cy="139.70" r="1.2" fill="#000" />
<circle cx="24.30" cy="139.10" r="1.2" fill="#000" />
<circle cx="32.75" cy="138.40" r="1.2" fill="#000" />
<circle cx="41.20" cy="137.90" r="1.2" fill="#000" />
<circle cx="49.65" cy="137.50" r="1.2" fill="#000" />
<circle cx="58.10" cy="137.00" r="1.2" fill="#000" />
<circle cx="66.55" cy="136.00" r="1.2" fill="#000" />
<circle cx="75.00" cy="134.80" r="1.2" fill="#000" />
<circle cx="83.45" cy="134.00" r="1.2" fill="#000" />
<circle cx="91.90" cy="133.20" r="1.2" fill="#000" />
<circle cx="100.35" cy="132.60" r="1.2" fill="#000" />
<line x1="127.2" y1="80.5" x2="127.2" y2="143.5" stroke="#666" stroke-width="0.6" />
<line x1="126.2" y1="142.3" x2="217.0" y2="142.3" stroke="#666" stroke-width="0.6" />
<line x1="125.9" y1="142.3" x2="127.2" y2="142.3" stroke="#666" stroke-width="0.5" />
<text x="124.9" y="142.70000000000002" font-size="2.9" font-weight="bold" font-style="normal" text-anchor="end" fill="#333" >0.0</text>
<line x1="125.9" y1="130.20000000000002" x2="127.2" y2="130.20000000000002" stroke="#666" stroke-width="0.5" />
<text x="124.9" y="130.60000000000002" font-size="2.9" font-weight="bold" font-style="normal" text-anchor="end" fill="#333" >0.1</text>
<line x1="125.9" y1="118.10000000000001" x2="127.2" y2="118.10000000000001" stroke="#666" stroke-width="0.5" />
<text x="124.9" y="118.50000000000001" font-size="2.9" font-weight="bold" font-style="normal" text-anchor="end" fill="#333" >0.2</text>
<line x1="125.9" y1="106.00000000000001" x2="127.2" y2="106.00000000000001" stroke="#666" stroke-width="0.5" />
<text x="124.9" y="106.40000000000002" font-size="2.9" font-weight="bold" font-style="normal" text-anchor="end" fill="#333" >0.3</text>
<line x1="125.9" y1="93.9" x2="127.2" y2="93.9" stroke="#666" stroke-width="0.5" />
<text x="124.9" y="94.30000000000001" font-size="2.9" font-weight="bold" font-style="normal" text-anchor="end" fill="#333" >0.4</text>
<line x1="125.9" y1="81.80000000000001" x2="127.2" y2="81.80000000000001" stroke="#666" stroke-width="0.5" />
<text x="124.9" y="82.20000000000002" font-size="2.9" font-weight="bold" font-style="normal" text-anchor="end" fill="#333" >0.5</text>
<line x1="127.2" y1="142.3" x2="127.2" y2="143.5" stroke="#666" stroke-width="0.5" />
<line x1="136.03" y1="142.3" x2="136.03" y2="143.5" stroke="#666" stroke-width="0.5" />
<line x1="144.86" y1="142.3" x2="144.86" y2="143.5" stroke="#666" stroke-width="0.5" />
<line x1="153.69" y1="142.3" x2="153.69" y2="143.5" stroke="#666" stroke-width="0.5" />
<line x1="162.52" y1="142.3" x2="162.52" y2="143.5" stroke="#666" stroke-width="0.5" />
<line x1="171.35" y1="142.3" x2="171.35" y2="143.5" stroke="#666" stroke-width="0.5" />
<line x1="180.18" y1="142.3" x2="180.18" y2="143.5" stroke="#666" stroke-width="0.5" />
<line x1="189.01" y1="142.3" x2="189.01" y2="143.5" stroke="#666" stroke-width="0.5" />
<line x1="197.84" y1="142.3" x2="197.84" y2="143.5" stroke="#666" stroke-width="0.5" />
<line x1="206.67000000000002" y1="142.3" x2="206.67000000000002" y2="143.5" stroke="#666" stroke-width="0.5" />
<line x1="215.5" y1="142.3" x2="215.5" y2="143.5" stroke="#666" stroke-width="0.5" />
<text x="127.2" y="146.70000000000002" font-size="2.9" font-weight="bold" font-style="normal" text-anchor="middle" fill="#333" >0</text>
<text x="144.86" y="146.70000000000002" font-size="2.9" font-weight="bold" font-style="normal" text-anchor="middle" fill="#333" >2</text>
<text x="162.52" y="146.70000000000002" font-size="2.9" font-weight="bold" font-style="normal" text-anchor="middle" fill="#333" >4</text>
<text x="180.18" y="146.70000000000002" font-size="2.9" font-weight="bold" font-style="normal" text-anchor="middle" fill="#333" >6</text>
<text x="197.84" y="146.70000000000002" font-size="2.9" font-weight="bold" font-style="normal" text-anchor="middle" fill="#333" >8</text>
<text x="215.5" y="146.70000000000002" font-size="2.9" font-weight="bold" font-style="normal" text-anchor="middle" fill="#333" >10</text>
<text x="171" y="150.9" font-size="3.6" font-weight="bold" font-style="normal" text-anchor="middle" fill="#222" >Time (hr)</text>
<text x="156.2" y="86.2" font-size="6.2" font-weight="bold" font-style="italic" text-anchor="start" fill="#000" >S. epidermidis</text>
<circle cx="131.40" cy="84.00" r="1.4" fill="#000" />
<rect x="130.00" y="87.30" width="2.8" height="2.8" fill="#000"/>
<path d="M131.40 91.77 L132.83 94.37 L129.97 94.37 Z" fill="#000"/>
<text x="136.3" y="85.1" font-size="3.3" font-weight="normal" font-style="normal" text-anchor="start" fill="#222" >Hair</text>
<text x="136.3" y="89.8" font-size="3.3" font-weight="normal" font-style="normal" text-anchor="start" fill="#222" >Bacteria</text>
<text x="136.3" y="94.3" font-size="3.3" font-weight="normal" font-style="normal" text-anchor="start" fill="#222" >Bacteria+hair</text>
<path d="M127.20 140.80 C128.67 140.60 133.09 140.10 136.03 139.60 C138.97 139.10 141.92 138.98 144.86 137.80 C147.80 136.62 150.75 134.93 153.69 132.50 C156.63 130.07 159.58 126.32 162.52 123.20 C165.46 120.08 168.41 117.03 171.35 113.80 C174.29 110.57 177.24 106.23 180.18 103.80 C183.12 101.37 186.07 101.03 189.01 99.20 C191.95 97.37 194.90 94.50 197.84 92.80 C200.78 91.10 203.73 89.33 206.67 89.00 C209.61 88.67 214.03 90.50 215.50 90.80" fill="none" stroke="#555" stroke-width="0.55"/>
<path d="M127.20 140.80 L136.03 139.80 L144.86 139.00 L153.69 138.30 L162.52 137.20 L171.35 136.30 L180.18 134.20 L189.01 134.30 L197.84 132.90 L206.67 132.50 L215.50 132.20" fill="none" stroke="#444" stroke-width="0.55"/>
<path d="M127.20 141.20 L136.03 140.80 L144.86 140.40 L153.69 140.00 L162.52 139.40 L171.35 138.90 L180.18 137.80 L189.01 136.80 L197.84 136.20 L206.67 135.80 L215.50 135.30" fill="none" stroke="#444" stroke-width="0.55"/>
<line x1="180.18" y1="99.5" x2="180.18" y2="105.5" stroke="#111" stroke-width="0.6" />
<line x1="178.98000000000002" y1="99.5" x2="181.38" y2="99.5" stroke="#111" stroke-width="0.6" />
<line x1="178.98000000000002" y1="105.5" x2="181.38" y2="105.5" stroke="#111" stroke-width="0.6" />
<line x1="197.84" y1="88.6" x2="197.84" y2="93.5" stroke="#111" stroke-width="0.6" />
<line x1="196.64000000000001" y1="88.6" x2="199.04" y2="88.6" stroke="#111" stroke-width="0.6" />
<line x1="196.64000000000001" y1="93.5" x2="199.04" y2="93.5" stroke="#111" stroke-width="0.6" />
<line x1="215.5" y1="87.4" x2="215.5" y2="92" stroke="#111" stroke-width="0.6" />
<line x1="214.3" y1="87.4" x2="216.7" y2="87.4" stroke="#111" stroke-width="0.6" />
<line x1="214.3" y1="92" x2="216.7" y2="92" stroke="#111" stroke-width="0.6" />
<line x1="153.69" y1="136.4" x2="153.69" y2="140.20000000000002" stroke="#111" stroke-width="0.6" />
<line x1="152.49" y1="136.4" x2="154.89" y2="136.4" stroke="#111" stroke-width="0.6" />
<line x1="152.49" y1="140.20000000000002" x2="154.89" y2="140.20000000000002" stroke="#111" stroke-width="0.6" />
<line x1="162.52" y1="135.29999999999998" x2="162.52" y2="139.1" stroke="#111" stroke-width="0.6" />
<line x1="161.32000000000002" y1="135.29999999999998" x2="163.72" y2="135.29999999999998" stroke="#111" stroke-width="0.6" />
<line x1="161.32000000000002" y1="139.1" x2="163.72" y2="139.1" stroke="#111" stroke-width="0.6" />
<line x1="171.35" y1="134.4" x2="171.35" y2="138.20000000000002" stroke="#111" stroke-width="0.6" />
<line x1="170.15" y1="134.4" x2="172.54999999999998" y2="134.4" stroke="#111" stroke-width="0.6" />
<line x1="170.15" y1="138.20000000000002" x2="172.54999999999998" y2="138.20000000000002" stroke="#111" stroke-width="0.6" />
<line x1="180.18" y1="132.29999999999998" x2="180.18" y2="136.1" stroke="#111" stroke-width="0.6" />
<line x1="178.98000000000002" y1="132.29999999999998" x2="181.38" y2="132.29999999999998" stroke="#111" stroke-width="0.6" />
<line x1="178.98000000000002" y1="136.1" x2="181.38" y2="136.1" stroke="#111" stroke-width="0.6" />
<line x1="189.01" y1="132.4" x2="189.01" y2="136.20000000000002" stroke="#111" stroke-width="0.6" />
<line x1="187.81" y1="132.4" x2="190.20999999999998" y2="132.4" stroke="#111" stroke-width="0.6" />
<line x1="187.81" y1="136.20000000000002" x2="190.20999999999998" y2="136.20000000000002" stroke="#111" stroke-width="0.6" />
<line x1="197.84" y1="131.0" x2="197.84" y2="134.8" stroke="#111" stroke-width="0.6" />
<line x1="196.64000000000001" y1="131.0" x2="199.04" y2="131.0" stroke="#111" stroke-width="0.6" />
<line x1="196.64000000000001" y1="134.8" x2="199.04" y2="134.8" stroke="#111" stroke-width="0.6" />
<line x1="206.67000000000002" y1="130.6" x2="206.67000000000002" y2="134.4" stroke="#111" stroke-width="0.6" />
<line x1="205.47000000000003" y1="130.6" x2="207.87" y2="130.6" stroke="#111" stroke-width="0.6" />
<line x1="205.47000000000003" y1="134.4" x2="207.87" y2="134.4" stroke="#111" stroke-width="0.6" />
<line x1="215.5" y1="130.29999999999998" x2="215.5" y2="134.1" stroke="#111" stroke-width="0.6" />
<line x1="214.3" y1="130.29999999999998" x2="216.7" y2="130.29999999999998" stroke="#111" stroke-width="0.6" />
<line x1="214.3" y1="134.1" x2="216.7" y2="134.1" stroke="#111" stroke-width="0.6" />
<rect x="125.75" y="139.35" width="2.9" height="2.9" fill="#000"/>
<rect x="134.58" y="138.15" width="2.9" height="2.9" fill="#000"/>
<rect x="143.41" y="136.35" width="2.9" height="2.9" fill="#000"/>
<rect x="152.24" y="131.05" width="2.9" height="2.9" fill="#000"/>
<rect x="161.07" y="121.75" width="2.9" height="2.9" fill="#000"/>
<rect x="169.90" y="112.35" width="2.9" height="2.9" fill="#000"/>
<rect x="178.73" y="102.35" width="2.9" height="2.9" fill="#000"/>
<rect x="187.56" y="97.75" width="2.9" height="2.9" fill="#000"/>
<rect x="196.39" y="91.35" width="2.9" height="2.9" fill="#000"/>
<rect x="205.22" y="87.55" width="2.9" height="2.9" fill="#000"/>
<rect x="214.05" y="89.35" width="2.9" height="2.9" fill="#000"/>
<path d="M127.20 139.37 L128.63 141.97 L125.77 141.97 Z" fill="#000"/>
<path d="M136.03 138.37 L137.46 140.97 L134.60 140.97 Z" fill="#000"/>
<path d="M144.86 137.57 L146.29 140.17 L143.43 140.17 Z" fill="#000"/>
<path d="M153.69 136.87 L155.12 139.47 L152.26 139.47 Z" fill="#000"/>
<path d="M162.52 135.77 L163.95 138.37 L161.09 138.37 Z" fill="#000"/>
<path d="M171.35 134.87 L172.78 137.47 L169.92 137.47 Z" fill="#000"/>
<path d="M180.18 132.77 L181.61 135.37 L178.75 135.37 Z" fill="#000"/>
<path d="M189.01 132.87 L190.44 135.47 L187.58 135.47 Z" fill="#000"/>
<path d="M197.84 131.47 L199.27 134.07 L196.41 134.07 Z" fill="#000"/>
<path d="M206.67 131.07 L208.10 133.67 L205.24 133.67 Z" fill="#000"/>
<path d="M215.50 130.77 L216.93 133.37 L214.07 133.37 Z" fill="#000"/>
<circle cx="127.20" cy="141.20" r="1.2" fill="#000" />
<circle cx="136.03" cy="140.80" r="1.2" fill="#000" />
<circle cx="144.86" cy="140.40" r="1.2" fill="#000" />
<circle cx="153.69" cy="140.00" r="1.2" fill="#000" />
<circle cx="162.52" cy="139.40" r="1.2" fill="#000" />
<circle cx="171.35" cy="138.90" r="1.2" fill="#000" />
<circle cx="180.18" cy="137.80" r="1.2" fill="#000" />
<circle cx="189.01" cy="136.80" r="1.2" fill="#000" />
<circle cx="197.84" cy="136.20" r="1.2" fill="#000" />
<circle cx="206.67" cy="135.80" r="1.2" fill="#000" />
<circle cx="215.50" cy="135.30" r="1.2" fill="#000" />
</g>
<g id="panelB">
<text x="228.2" y="6.3" font-size="7.6" font-weight="bold" font-style="normal" text-anchor="start" fill="#000" >B</text>
<text x="322.8" y="4.9" font-size="5.8" font-weight="normal" font-style="normal" text-anchor="middle" fill="#111" >Growth Phase</text>
<text x="268.5" y="14.9" font-size="5.5" font-weight="normal" font-style="normal" text-anchor="middle" fill="#111" >Early Mid-Log</text>
<text x="324.8" y="14.7" font-size="5.45" font-weight="normal" font-style="normal" text-anchor="middle" fill="#111" >Mid-Log</text>
<text x="376" y="14.6" font-size="5.45" font-weight="normal" font-style="normal" text-anchor="middle" fill="#111" >Stationary</text>
<text x="250" y="20.8" font-size="5.2" font-weight="normal" font-style="normal" text-anchor="end" fill="#111" >Hair</text>
<text x="250" y="26.9" font-size="5.4" font-weight="normal" font-style="normal" text-anchor="end" fill="#111" >Bacteria</text>
<line x1="255.2" y1="19.2" x2="257.8" y2="19.2" stroke="#222" stroke-width="0.6" />
<line x1="256.5" y1="17.9" x2="256.5" y2="20.5" stroke="#222" stroke-width="0.6" />
<line x1="268.9" y1="19.2" x2="271.5" y2="19.2" stroke="#222" stroke-width="0.6" />
<line x1="283.2" y1="19.2" x2="285.8" y2="19.2" stroke="#222" stroke-width="0.6" />
<line x1="284.5" y1="17.9" x2="284.5" y2="20.5" stroke="#222" stroke-width="0.6" />
<line x1="255.2" y1="25.3" x2="257.8" y2="25.3" stroke="#222" stroke-width="0.6" />
<line x1="268.9" y1="25.3" x2="271.5" y2="25.3" stroke="#222" stroke-width="0.6" />
<line x1="270.2" y1="24.0" x2="270.2" y2="26.6" stroke="#222" stroke-width="0.6" />
<line x1="283.2" y1="25.3" x2="285.8" y2="25.3" stroke="#222" stroke-width="0.6" />
<line x1="284.5" y1="24.0" x2="284.5" y2="26.6" stroke="#222" stroke-width="0.6" />
<line x1="309.7" y1="19.2" x2="312.3" y2="19.2" stroke="#222" stroke-width="0.6" />
<line x1="311" y1="17.9" x2="311" y2="20.5" stroke="#222" stroke-width="0.6" />
<line x1="323.2" y1="19.2" x2="325.8" y2="19.2" stroke="#222" stroke-width="0.6" />
<line x1="336.8" y1="19.2" x2="339.40000000000003" y2="19.2" stroke="#222" stroke-width="0.6" />
<line x1="338.1" y1="17.9" x2="338.1" y2="20.5" stroke="#222" stroke-width="0.6" />
<line x1="309.7" y1="25.3" x2="312.3" y2="25.3" stroke="#222" stroke-width="0.6" />
<line x1="323.2" y1="25.3" x2="325.8" y2="25.3" stroke="#222" stroke-width="0.6" />
<line x1="324.5" y1="24.0" x2="324.5" y2="26.6" stroke="#222" stroke-width="0.6" />
<line x1="336.8" y1="25.3" x2="339.40000000000003" y2="25.3" stroke="#222" stroke-width="0.6" />
<line x1="338.1" y1="24.0" x2="338.1" y2="26.6" stroke="#222" stroke-width="0.6" />
<line x1="362.4" y1="19.2" x2="365.0" y2="19.2" stroke="#222" stroke-width="0.6" />
<line x1="363.7" y1="17.9" x2="363.7" y2="20.5" stroke="#222" stroke-width="0.6" />
<line x1="376.2" y1="19.2" x2="378.8" y2="19.2" stroke="#222" stroke-width="0.6" />
<line x1="390.09999999999997" y1="19.2" x2="392.7" y2="19.2" stroke="#222" stroke-width="0.6" />
<line x1="391.4" y1="17.9" x2="391.4" y2="20.5" stroke="#222" stroke-width="0.6" />
<line x1="362.4" y1="25.3" x2="365.0" y2="25.3" stroke="#222" stroke-width="0.6" />
<line x1="376.2" y1="25.3" x2="378.8" y2="25.3" stroke="#222" stroke-width="0.6" />
<line x1="377.5" y1="24.0" x2="377.5" y2="26.6" stroke="#222" stroke-width="0.6" />
<line x1="390.09999999999997" y1="25.3" x2="392.7" y2="25.3" stroke="#222" stroke-width="0.6" />
<line x1="391.4" y1="24.0" x2="391.4" y2="26.6" stroke="#222" stroke-width="0.6" />
<defs>
<radialGradient id="ring" cx="50%" cy="50%" r="50%">
 <stop offset="0" stop-color="#626262"/><stop offset="0.5" stop-color="#707070"/>
 <stop offset="0.74" stop-color="#bababa"/><stop offset="0.9" stop-color="#a8a8a8"/><stop offset="1" stop-color="#505050"/>
</radialGradient>
<radialGradient id="ring2" cx="50%" cy="50%" r="50%">
 <stop offset="0" stop-color="#858585"/><stop offset="0.5" stop-color="#8e8e8e"/>
 <stop offset="0.76" stop-color="#c0c0c0"/><stop offset="0.9" stop-color="#acacac"/><stop offset="1" stop-color="#5a5a5a"/>
</radialGradient>
<radialGradient id="spot" cx="50%" cy="50%" r="50%">
 <stop offset="0" stop-color="#b8b8b8"/><stop offset="0.65" stop-color="#cacaca"/><stop offset="1" stop-color="#7a7a7a"/>
</radialGradient>
<linearGradient id="pg1" x1="0" x2="1" y1="0" y2="0">
 <stop offset="0" stop-color="#262626"/><stop offset="0.12" stop-color="#181818"/><stop offset="0.9" stop-color="#1a1a1a"/><stop offset="1" stop-color="#282828"/>
</linearGradient>
<linearGradient id="vshade" x1="0" x2="0" y1="0" y2="1">
 <stop offset="0" stop-color="#fff" stop-opacity="0.07"/><stop offset="0.45" stop-color="#000" stop-opacity="0"/><stop offset="1" stop-color="#000" stop-opacity="0.3"/>
</linearGradient>
<linearGradient id="pg2" x1="0" x2="1" y1="0" y2="0">
 <stop offset="0" stop-color="#202020"/><stop offset="0.12" stop-color="#141414"/><stop offset="0.9" stop-color="#171717"/><stop offset="1" stop-color="#242424"/>
</linearGradient>
<linearGradient id="pg3" x1="0" x2="1" y1="0" y2="0">
 <stop offset="0" stop-color="#333"/><stop offset="0.12" stop-color="#292929"/><stop offset="0.9" stop-color="#2b2b2b"/><stop offset="1" stop-color="#333"/>
</linearGradient>
</defs>
<rect x="249.5" y="27.3" width="40.9" height="59.2" fill="url(#pg1)"/>
<rect x="249.5" y="88.5" width="40.9" height="59.2" fill="url(#pg1)"/>
<rect x="249.5" y="27.3" width="40.9" height="59.2" fill="url(#vshade)"/>
<rect x="303.1" y="27.3" width="41.3" height="59.2" fill="url(#pg2)"/>
<rect x="303.1" y="88.5" width="41.3" height="59.2" fill="url(#pg2)"/>
<rect x="303.1" y="27.3" width="41.3" height="59.2" fill="url(#vshade)"/>
<rect x="357.8" y="27.3" width="40.8" height="59.2" fill="url(#pg3)"/>
<rect x="357.8" y="88.5" width="40.8" height="59.2" fill="url(#pg3)"/>
<rect x="357.8" y="27.3" width="40.8" height="59.2" fill="url(#vshade)"/>
<text x="239.6" y="36.6" font-size="4.9" fill="#111">10<tspan dy="-1.8" font-size="3.3">-1</tspan></text>
<text x="239.6" y="48.2" font-size="4.9" fill="#111">10<tspan dy="-1.8" font-size="3.3">-5</tspan></text>
<text x="239.6" y="59.4" font-size="4.9" fill="#111">10<tspan dy="-1.8" font-size="3.3">-6</tspan></text>
<text x="239.6" y="70.8" font-size="4.9" fill="#111">10<tspan dy="-1.8" font-size="3.3">-7</tspan></text>
<text x="239.6" y="82.19999999999999" font-size="4.9" fill="#111">10<tspan dy="-1.8" font-size="3.3">-8</tspan></text>
<text x="239.6" y="97.19999999999999" font-size="4.9" fill="#111">10<tspan dy="-1.8" font-size="3.3">-0</tspan></text>
<text x="239.6" y="108.69999999999999" font-size="4.9" fill="#111">10<tspan dy="-1.8" font-size="3.3">-1</tspan></text>
<text x="239.6" y="120.39999999999999" font-size="4.9" fill="#111">10<tspan dy="-1.8" font-size="3.3">-2</tspan></text>
<text x="239.6" y="132.1" font-size="4.9" fill="#111">10<tspan dy="-1.8" font-size="3.3">-3</tspan></text>
<text x="239.6" y="143.6" font-size="4.9" fill="#111">10<tspan dy="-1.8" font-size="3.3">-4</tspan></text>
<text x="292.8" y="36.6" font-size="4.9" fill="#111">10<tspan dy="-1.8" font-size="3.3">-1</tspan></text>
<text x="292.8" y="48.2" font-size="4.9" fill="#111">10<tspan dy="-1.8" font-size="3.3">-5</tspan></text>
<text x="292.8" y="59.4" font-size="4.9" fill="#111">10<tspan dy="-1.8" font-size="3.3">-6</tspan></text>
<text x="292.8" y="70.8" font-size="4.9" fill="#111">10<tspan dy="-1.8" font-size="3.3">-7</tspan></text>
<text x="292.8" y="82.19999999999999" font-size="4.9" fill="#111">10<tspan dy="-1.8" font-size="3.3">-8</tspan></text>
<text x="292.8" y="97.19999999999999" font-size="4.9" fill="#111">10<tspan dy="-1.8" font-size="3.3">-0</tspan></text>
<text x="292.8" y="108.69999999999999" font-size="4.9" fill="#111">10<tspan dy="-1.8" font-size="3.3">-1</tspan></text>
<text x="292.8" y="120.39999999999999" font-size="4.9" fill="#111">10<tspan dy="-1.8" font-size="3.3">-2</tspan></text>
<text x="292.8" y="132.1" font-size="4.9" fill="#111">10<tspan dy="-1.8" font-size="3.3">-3</tspan></text>
<text x="292.8" y="143.6" font-size="4.9" fill="#111">10<tspan dy="-1.8" font-size="3.3">-4</tspan></text>
<text x="348.0" y="36.6" font-size="4.9" fill="#111">10<tspan dy="-1.8" font-size="3.3">-1</tspan></text>
<text x="348.0" y="48.2" font-size="4.9" fill="#111">10<tspan dy="-1.8" font-size="3.3">-5</tspan></text>
<text x="348.0" y="59.4" font-size="4.9" fill="#111">10<tspan dy="-1.8" font-size="3.3">-6</tspan></text>
<text x="348.0" y="70.8" font-size="4.9" fill="#111">10<tspan dy="-1.8" font-size="3.3">-7</tspan></text>
<text x="348.0" y="82.19999999999999" font-size="4.9" fill="#111">10<tspan dy="-1.8" font-size="3.3">-8</tspan></text>
<text x="348.0" y="97.19999999999999" font-size="4.9" fill="#111">10<tspan dy="-1.8" font-size="3.3">-0</tspan></text>
<text x="348.0" y="108.69999999999999" font-size="4.9" fill="#111">10<tspan dy="-1.8" font-size="3.3">-1</tspan></text>
<text x="348.0" y="120.39999999999999" font-size="4.9" fill="#111">10<tspan dy="-1.8" font-size="3.3">-2</tspan></text>
<text x="348.0" y="132.1" font-size="4.9" fill="#111">10<tspan dy="-1.8" font-size="3.3">-3</tspan></text>
<text x="348.0" y="143.6" font-size="4.9" fill="#111">10<tspan dy="-1.8" font-size="3.3">-4</tspan></text>
<text x="236.7" y="57.8" font-size="5.6" font-weight="normal" font-style="normal" text-anchor="middle" fill="#111" transform="rotate(-90 236.7 57.8)"  textLength="40.4" lengthAdjust="spacingAndGlyphs">S. epidermidis</text>
<text x="236.7" y="111.8" font-size="5.6" font-weight="normal" font-style="normal" text-anchor="middle" fill="#111" transform="rotate(-90 236.7 111.8)"  textLength="22" lengthAdjust="spacingAndGlyphs">S.aureus</text>
<ellipse cx="269.1" cy="34.6" rx="3.5" ry="3.5" fill="url(#spot)" opacity="1.0"/>
<ellipse cx="283.3" cy="35" rx="3.3" ry="3.0" fill="url(#spot)" opacity="1.0"/>
<circle cx="261.70" cy="29.70" r="0.7" fill="#ccc" />
<circle cx="265.00" cy="33.00" r="0.7" fill="#ccc" />
<circle cx="272.30" cy="39.40" r="0.7" fill="#ccc" />
<ellipse cx="269.0" cy="46.8" rx="3.4" ry="3.1" fill="url(#spot)" opacity="1.0"/>
<ellipse cx="268.3" cy="57.5" rx="3.4" ry="3.1" fill="url(#spot)" opacity="1.0"/>
<circle cx="266.20" cy="67.40" r="1.3" fill="#ddd" />
<circle cx="269.20" cy="67.20" r="1.3" fill="#ddd" />
<circle cx="265.90" cy="70.00" r="1.3" fill="#ddd" />
<circle cx="268.00" cy="69.10" r="1.3" fill="#ddd" />
<circle cx="269.70" cy="69.90" r="1.3" fill="#ddd" />
<circle cx="267.80" cy="71.40" r="1.3" fill="#ddd" />
<circle cx="267.60" cy="67.00" r="1.3" fill="#ddd" />
<circle cx="266.00" cy="80.10" r="1.25" fill="#ddd" />
<circle cx="268.40" cy="79.70" r="1.25" fill="#ddd" />
<circle cx="267.00" cy="82.20" r="1.25" fill="#ddd" />
<circle cx="269.60" cy="81.40" r="1.25" fill="#ddd" />
<circle cx="268.20" cy="81.20" r="1.25" fill="#ddd" />
<ellipse cx="324.5" cy="36.8" rx="3.5" ry="3.2" fill="url(#spot)" opacity="1.0"/>
<ellipse cx="338.1" cy="36.4" rx="3.2" ry="2.6" fill="url(#spot)" opacity="0.9"/>
<ellipse cx="324.1" cy="47.4" rx="3.2" ry="3.0" fill="url(#spot)" opacity="1.0"/>
<circle cx="336.60" cy="48.80" r="0.6" fill="#999" />
<circle cx="337.50" cy="49.50" r="0.5" fill="#999" />
<ellipse cx="323.4" cy="57.9" rx="3.1" ry="2.8" fill="url(#spot)" opacity="1.0"/>
<circle cx="336.00" cy="60.50" r="0.7" fill="#999" />
<ellipse cx="323.2" cy="68.4" rx="3.0" ry="2.6" fill="url(#spot)" opacity="1.0"/>
<ellipse cx="322.6" cy="79.6" rx="3.0" ry="2.8" fill="url(#spot)" opacity="1.0"/>
<circle cx="336.40" cy="79.80" r="0.6" fill="#888" />
<ellipse cx="377.8" cy="33.9" rx="3.3" ry="3.3" fill="url(#spot)" opacity="1.0"/>
<ellipse cx="391.4" cy="34.8" rx="3.3" ry="3.1" fill="url(#spot)" opacity="0.92"/>
<ellipse cx="379" cy="46" rx="3.2" ry="3.2" fill="url(#spot)" opacity="1.0"/>
<ellipse cx="392" cy="46" rx="3.0" ry="3.0" fill="url(#spot)" opacity="0.62"/>
<circle cx="391.00" cy="45.40" r="0.55" fill="#444" />
<circle cx="393.10" cy="46.40" r="0.55" fill="#444" />
<circle cx="392.00" cy="47.50" r="0.55" fill="#444" />
<circle cx="392.30" cy="44.40" r="0.55" fill="#444" />
<ellipse cx="379" cy="57" rx="3.2" ry="3.0" fill="url(#spot)" opacity="1.0"/>
<ellipse cx="391.7" cy="56.4" rx="3.0" ry="3.0" fill="url(#spot)" opacity="0.5"/>
<circle cx="390.50" cy="55.60" r="0.6" fill="#3a3a3a" />
<circle cx="392.70" cy="56.60" r="0.6" fill="#3a3a3a" />
<circle cx="391.50" cy="57.80" r="0.6" fill="#3a3a3a" />
<circle cx="392.20" cy="54.70" r="0.6" fill="#3a3a3a" />
<circle cx="393.50" cy="58.00" r="0.6" fill="#3a3a3a" />
<circle cx="389.90" cy="57.40" r="0.6" fill="#3a3a3a" />
<ellipse cx="378.7" cy="67.8" rx="3.0" ry="3.0" fill="url(#spot)" opacity="1.0"/>
<circle cx="390.00" cy="68.00" r="0.7" fill="#aaa" />
<circle cx="391.50" cy="69.50" r="0.7" fill="#aaa" />
<circle cx="393.50" cy="67.00" r="0.5" fill="#aaa" />
<ellipse cx="378.7" cy="79" rx="3.2" ry="3.0" fill="url(#spot)" opacity="1.0"/>
<circle cx="389.20" cy="80.20" r="0.5" fill="#999" />
<circle cx="268.0" cy="93.8" r="4.3" fill="url(#ring)" opacity="0.95"/>
<circle cx="280.5" cy="94.0" r="4.2" fill="url(#ring)" opacity="0.92"/>
<circle cx="268.0" cy="105.7" r="4.3" fill="url(#ring)" opacity="0.95"/>
<circle cx="280.5" cy="105.9" r="4.2" fill="url(#ring)" opacity="0.92"/>
<circle cx="268.0" cy="117.4" r="4.2" fill="url(#ring)" opacity="0.95"/>
<circle cx="280.5" cy="117.60000000000001" r="4.1000000000000005" fill="url(#ring)" opacity="0.92"/>
<circle cx="268.0" cy="128" r="4.0" fill="url(#ring)" opacity="0.95"/>
<circle cx="280.5" cy="128.2" r="3.9" fill="url(#ring)" opacity="0.92"/>
<circle cx="268.0" cy="139.4" r="3.9" fill="url(#ring)" opacity="0.95"/>
<circle cx="278.80" cy="140.00" r="0.85" fill="#999" />
<circle cx="281.10" cy="139.40" r="0.85" fill="#999" />
<circle cx="280.10" cy="141.70" r="0.85" fill="#999" />
<circle cx="282.40" cy="142.00" r="0.85" fill="#999" />
<circle cx="280.60" cy="143.40" r="0.85" fill="#999" />
<circle cx="278.60" cy="143.00" r="0.85" fill="#999" />
<circle cx="282.20" cy="140.40" r="0.85" fill="#999" />
<circle cx="321.6" cy="92.9" r="3.9" fill="url(#ring)" opacity="0.9"/>
<circle cx="334.8" cy="94.6" r="4.0" fill="url(#ring)" opacity="0.9"/>
<circle cx="321.6" cy="105.3" r="3.9" fill="url(#ring)" opacity="0.9"/>
<circle cx="334.8" cy="106.7" r="4.0" fill="url(#ring)" opacity="0.9"/>
<circle cx="321.6" cy="117.5" r="3.9" fill="url(#ring)" opacity="0.9"/>
<circle cx="334.8" cy="118.4" r="4.0" fill="url(#ring)" opacity="0.9"/>
<circle cx="321.6" cy="130.1" r="3.9" fill="url(#ring)" opacity="0.9"/>
<circle cx="334.8" cy="130.6" r="4.0" fill="url(#ring)" opacity="0.9"/>
<circle cx="321.6" cy="142" r="3.9" fill="url(#ring)" opacity="0.9"/>
<circle cx="334.8" cy="142" r="3.4" fill="url(#ring)" opacity="0.4"/>
<circle cx="377.8" cy="95.3" r="4.1" fill="url(#ring2)" opacity="0.95"/>
<circle cx="391.8" cy="95.3" r="4.1" fill="url(#ring2)" opacity="0.85"/>
<circle cx="377.8" cy="107.7" r="4.1" fill="url(#ring2)" opacity="0.85"/>
<circle cx="391.8" cy="107" r="4.1" fill="url(#ring2)" opacity="0.75"/>
<circle cx="377.8" cy="119.4" r="4.1" fill="url(#ring2)" opacity="0.75"/>
<circle cx="391.8" cy="119" r="4.1" fill="url(#ring2)" opacity="0.6"/>
<circle cx="377.8" cy="131.2" r="4.1" fill="url(#ring2)" opacity="0.7"/>
<circle cx="391.8" cy="131" r="4.1" fill="url(#ring2)" opacity="0.5"/>
<circle cx="377.8" cy="142.5" r="4.1" fill="url(#ring2)" opacity="0.35"/>
<circle cx="391.8" cy="142" r="4.1" fill="url(#ring2)" opacity="0.18"/>
</g>
<g id="panelC">
<text x="1.7" y="158.9" font-size="8.6" font-weight="bold" font-style="normal" text-anchor="start" fill="#000" >C</text>
<rect x="35.60" y="177.80" width="13.00" height="8.80" fill="#fff" stroke="#000" stroke-width="1.3"/>
<circle cx="42.20" cy="175.40" r="2.3" fill="#000" />
<circle cx="39.50" cy="177.60" r="2.3" fill="#000" />
<circle cx="44.90" cy="177.60" r="2.3" fill="#000" />
<circle cx="37.40" cy="179.20" r="2.3" fill="#000" />
<circle cx="42.20" cy="180.00" r="2.3" fill="#000" />
<circle cx="46.90" cy="178.80" r="2.3" fill="#000" />
<circle cx="40.00" cy="182.60" r="2.3" fill="#000" />
<circle cx="43.60" cy="182.60" r="2.3" fill="#000" />
<circle cx="37.60" cy="185.20" r="2.3" fill="#000" />
<circle cx="42.00" cy="185.30" r="2.3" fill="#000" />
<circle cx="46.50" cy="184.60" r="2.3" fill="#000" />
<circle cx="40.20" cy="187.60" r="2.3" fill="#000" />
<circle cx="44.00" cy="187.60" r="2.3" fill="#000" />
<circle cx="42.00" cy="189.20" r="2.3" fill="#000" />
<circle cx="40.20" cy="180.20" r="2.3" fill="#000" />
<circle cx="44.40" cy="180.20" r="2.3" fill="#000" />
<circle cx="41.80" cy="177.80" r="2.3" fill="#000" />
<circle cx="37.30" cy="182.20" r="0.75" fill="#fff" />
<circle cx="46.60" cy="181.50" r="0.75" fill="#fff" />
<rect x="54.30" y="256.60" width="14.50" height="6.20" fill="#eee" stroke="#999" stroke-width="1.1"/>
<circle cx="64.00" cy="256.20" r="2.3" fill="#000" />
<circle cx="58.20" cy="259.50" r="2.3" fill="#000" />
<circle cx="59.90" cy="262.00" r="2.3" fill="#000" />
<circle cx="64.80" cy="261.60" r="2.3" fill="#000" />
<rect x="72.90" y="229.00" width="13.40" height="14.00" fill="#fff" stroke="#888" stroke-width="1.1"/>
<circle cx="79.50" cy="227.90" r="2.3" fill="#000" />
<circle cx="76.20" cy="234.30" r="2.3" fill="#000" />
<circle cx="83.00" cy="234.70" r="2.3" fill="#000" />
<circle cx="79.50" cy="245.90" r="2.3" fill="#000" />
<rect x="93.10" y="227.90" width="12.20" height="8.30" fill="#fff" stroke="#c4c4c4" stroke-width="1.0"/>
<circle cx="98.50" cy="225.50" r="2.3" fill="#000" />
<circle cx="95.00" cy="233.70" r="2.3" fill="#000" />
<circle cx="98.50" cy="236.80" r="2.3" fill="#000" />
<circle cx="102.00" cy="235.60" r="2.3" fill="#000" />
<rect x="110.80" y="244.00" width="13.20" height="20.40" fill="#fff" stroke="#333" stroke-width="1.2"/>
<line x1="117.3" y1="237.2" x2="117.3" y2="244" stroke="#333" stroke-width="0.9" />
<circle cx="117.20" cy="237.20" r="2.3" fill="#000" />
<circle cx="113.70" cy="263.40" r="2.3" fill="#000" />
<circle cx="117.50" cy="264.50" r="2.3" fill="#000" />
<circle cx="120.70" cy="264.00" r="2.3" fill="#000" />
<circle cx="132.60" cy="262.40" r="2.3" fill="#000" />
<circle cx="135.10" cy="263.40" r="2.3" fill="#000" />
<circle cx="137.00" cy="263.00" r="2.3" fill="#000" />
<circle cx="139.60" cy="262.40" r="2.3" fill="#000" />
<rect x="148.70" y="262.00" width="12.60" height="4.70" fill="#bbb" stroke="#777" stroke-width="1.0"/>
<circle cx="157.40" cy="261.50" r="2.3" fill="#000" />
<circle cx="151.60" cy="263.40" r="2.3" fill="#000" />
<circle cx="154.50" cy="265.30" r="2.3" fill="#000" />
<circle cx="155.90" cy="264.40" r="2.3" fill="#000" />
<rect x="167.20" y="224.00" width="13.20" height="23.90" fill="#fff" stroke="#ddd" stroke-width="1.0"/>
<line x1="174" y1="218.7" x2="174" y2="224" stroke="#e2e2e2" stroke-width="0.9" />
<circle cx="174.00" cy="218.70" r="2.3" fill="#000" />
<circle cx="174.00" cy="242.60" r="2.3" fill="#000" />
<circle cx="176.90" cy="245.00" r="2.3" fill="#000" />
<circle cx="170.70" cy="249.80" r="2.3" fill="#000" />
<line x1="32.5" y1="167.8" x2="32.5" y2="269.0" stroke="#111" stroke-width="1.25" />
<line x1="31.9" y1="268.4" x2="184.5" y2="268.4" stroke="#111" stroke-width="1.25" />
<line x1="29.5" y1="268.4" x2="32.5" y2="268.4" stroke="#111" stroke-width="1.0" />
<text x="28.9" y="271.0" font-size="7.35" font-weight="bold" font-style="normal" text-anchor="end" fill="#000" >0.00</text>
<line x1="29.5" y1="248.39999999999998" x2="32.5" y2="248.39999999999998" stroke="#111" stroke-width="1.0" />
<text x="28.9" y="250.99999999999997" font-size="7.35" font-weight="bold" font-style="normal" text-anchor="end" fill="#000" >0.02</text>
<line x1="29.5" y1="228.39999999999998" x2="32.5" y2="228.39999999999998" stroke="#111" stroke-width="1.0" />
<text x="28.9" y="230.99999999999997" font-size="7.35" font-weight="bold" font-style="normal" text-anchor="end" fill="#000" >0.04</text>
<line x1="29.5" y1="208.4" x2="32.5" y2="208.4" stroke="#111" stroke-width="1.0" />
<text x="28.9" y="211.0" font-size="7.35" font-weight="bold" font-style="normal" text-anchor="end" fill="#000" >0.06</text>
<line x1="29.5" y1="188.4" x2="32.5" y2="188.4" stroke="#111" stroke-width="1.0" />
<text x="28.9" y="191.0" font-size="7.35" font-weight="bold" font-style="normal" text-anchor="end" fill="#000" >0.08</text>
<line x1="29.5" y1="168.4" x2="32.5" y2="168.4" stroke="#111" stroke-width="1.0" />
<text x="28.9" y="171.0" font-size="7.35" font-weight="bold" font-style="normal" text-anchor="end" fill="#000" >0.10</text>
<line x1="42.0" y1="268.4" x2="42.0" y2="271.4" stroke="#111" stroke-width="1.0" />
<text x="43.6" y="277.7" font-size="7.5" font-weight="bold" font-style="normal" text-anchor="end" fill="#000" transform="rotate(-45 43.6 277.7)" >S. aureus</text>
<line x1="60.8" y1="268.4" x2="60.8" y2="271.4" stroke="#111" stroke-width="1.0" />
<text x="62.4" y="277.7" font-size="7.5" font-weight="bold" font-style="normal" text-anchor="end" fill="#000" transform="rotate(-45 62.4 277.7)" >H001</text>
<line x1="79.6" y1="268.4" x2="79.6" y2="271.4" stroke="#111" stroke-width="1.0" />
<text x="81.19999999999999" y="277.7" font-size="7.5" font-weight="bold" font-style="normal" text-anchor="end" fill="#000" transform="rotate(-45 81.19999999999999 277.7)" >H002</text>
<line x1="98.4" y1="268.4" x2="98.4" y2="271.4" stroke="#111" stroke-width="1.0" />
<text x="100.0" y="277.7" font-size="7.5" font-weight="bold" font-style="normal" text-anchor="end" fill="#000" transform="rotate(-45 100.0 277.7)" >H003</text>
<line x1="117.2" y1="268.4" x2="117.2" y2="271.4" stroke="#111" stroke-width="1.0" />
<text x="118.8" y="277.7" font-size="7.5" font-weight="bold" font-style="normal" text-anchor="end" fill="#000" transform="rotate(-45 118.8 277.7)" >H006</text>
<line x1="136.0" y1="268.4" x2="136.0" y2="271.4" stroke="#111" stroke-width="1.0" />
<text x="137.6" y="277.7" font-size="7.5" font-weight="bold" font-style="normal" text-anchor="end" fill="#000" transform="rotate(-45 137.6 277.7)" >H012</text>
<line x1="154.8" y1="268.4" x2="154.8" y2="271.4" stroke="#111" stroke-width="1.0" />
<text x="156.4" y="277.7" font-size="7.5" font-weight="bold" font-style="normal" text-anchor="end" fill="#000" transform="rotate(-45 156.4 277.7)" >H013</text>
<line x1="173.6" y1="268.4" x2="173.6" y2="271.4" stroke="#111" stroke-width="1.0" />
<text x="175.2" y="277.7" font-size="7.5" font-weight="bold" font-style="normal" text-anchor="end" fill="#000" transform="rotate(-45 175.2 277.7)" >H015</text>
<text x="108.3" y="170.9" font-size="9.6" font-weight="bold" font-style="italic" text-anchor="middle" fill="#000"  textLength="43.5" lengthAdjust="spacingAndGlyphs">S. aureus</text>
<text x="108.3" y="303.4" font-size="8.1" font-weight="bold" font-style="normal" text-anchor="middle" fill="#000" >Donor</text>
<text x="9.1" y="222.5" font-size="7.4" font-weight="bold" font-style="normal" text-anchor="middle" fill="#000" transform="rotate(-90 9.1 222.5)" >Optical density at 600 nm</text>
</g>
<line x1="116.4" y1="257.2" x2="118.2" y2="257.2" stroke="#555" stroke-width="0.6" />
<line x1="117.3" y1="256.3" x2="117.3" y2="258.1" stroke="#555" stroke-width="0.6" />
<g id="panelD">
<text x="207.2" y="158.3" font-size="8.0" font-weight="bold" font-style="normal" text-anchor="start" fill="#000" >D</text>
<rect x="240.60" y="188.40" width="14.00" height="17.40" fill="#fff" stroke="#000" stroke-width="1.5"/>
<circle cx="243.60" cy="187.70" r="2.3" fill="#000" />
<circle cx="247.50" cy="189.70" r="2.3" fill="#000" />
<circle cx="250.70" cy="190.30" r="2.3" fill="#000" />
<circle cx="243.20" cy="191.60" r="2.3" fill="#000" />
<circle cx="244.00" cy="196.10" r="2.3" fill="#000" />
<circle cx="250.70" cy="201.30" r="2.3" fill="#000" />
<circle cx="243.60" cy="205.20" r="2.3" fill="#000" />
<circle cx="249.40" cy="206.20" r="2.3" fill="#000" />
<circle cx="246.80" cy="208.40" r="2.3" fill="#000" />
<rect x="260.40" y="249.40" width="13.40" height="9.10" fill="#fff" stroke="#888" stroke-width="1.1"/>
<circle cx="267.00" cy="247.30" r="2.3" fill="#000" />
<circle cx="263.70" cy="255.60" r="2.3" fill="#000" />
<circle cx="270.90" cy="256.60" r="2.3" fill="#000" />
<circle cx="267.00" cy="259.10" r="2.3" fill="#000" />
<rect x="279.70" y="241.10" width="13.70" height="15.50" fill="#fff" stroke="#666" stroke-width="1.1"/>
<line x1="279.7" y1="248.8" x2="293.4" y2="248.8" stroke="#666" stroke-width="0.8800000000000001" />
<circle cx="290.00" cy="239.70" r="2.3" fill="#000" />
<circle cx="283.20" cy="245.30" r="2.3" fill="#000" />
<circle cx="286.50" cy="251.70" r="2.3" fill="#000" />
<circle cx="286.10" cy="258.20" r="2.3" fill="#000" />
<rect x="300.00" y="242.60" width="13.30" height="7.20" fill="#fff" stroke="#c4c4c4" stroke-width="1.0"/>
<circle cx="303.20" cy="241.70" r="2.3" fill="#000" />
<circle cx="312.30" cy="243.60" r="2.3" fill="#000" />
<circle cx="309.40" cy="249.40" r="2.3" fill="#000" />
<circle cx="303.20" cy="251.70" r="2.3" fill="#000" />
<rect x="318.70" y="259.50" width="13.60" height="4.50" fill="#ccc" stroke="#777" stroke-width="1.0"/>
<circle cx="328.80" cy="258.90" r="2.3" fill="#000" />
<circle cx="321.70" cy="262.00" r="2.3" fill="#000" />
<circle cx="324.60" cy="263.40" r="2.3" fill="#000" />
<circle cx="329.40" cy="262.00" r="2.3" fill="#000" />
<rect x="338.70" y="256.20" width="13.00" height="8.20" fill="#fff" stroke="#aaa" stroke-width="1.0"/>
<line x1="338.7" y1="260.9" x2="351.7" y2="260.9" stroke="#aaa" stroke-width="0.8" />
<circle cx="342.00" cy="256.00" r="2.3" fill="#000" />
<circle cx="348.40" cy="256.60" r="2.3" fill="#000" />
<circle cx="342.00" cy="264.00" r="2.3" fill="#000" />
<circle cx="348.40" cy="263.40" r="2.3" fill="#000" />
<rect x="358.00" y="255.80" width="13.00" height="3.70" fill="#ccc" stroke="#999" stroke-width="1.0"/>
<circle cx="368.10" cy="255.60" r="2.3" fill="#000" />
<circle cx="360.60" cy="257.60" r="2.3" fill="#000" />
<circle cx="365.10" cy="257.60" r="2.3" fill="#000" />
<circle cx="363.30" cy="260.10" r="2.3" fill="#000" />
<rect x="377.50" y="224.00" width="13.40" height="20.00" fill="#fff" stroke="#ddd" stroke-width="1.0"/>
<circle cx="384.30" cy="219.70" r="2.3" fill="#000" />
<circle cx="384.30" cy="238.50" r="2.3" fill="#000" />
<circle cx="380.80" cy="247.90" r="2.3" fill="#000" />
<circle cx="387.60" cy="247.30" r="2.3" fill="#000" />
<line x1="237.7" y1="172.9" x2="237.7" y2="264.90000000000003" stroke="#111" stroke-width="1.25" />
<line x1="237.1" y1="264.3" x2="393.2" y2="264.3" stroke="#111" stroke-width="1.25" />
<line x1="234.7" y1="264.3" x2="237.7" y2="264.3" stroke="#111" stroke-width="1.0" />
<text x="234.1" y="266.90000000000003" font-size="7.35" font-weight="bold" font-style="normal" text-anchor="end" fill="#000" >0.00</text>
<line x1="234.7" y1="246.14000000000001" x2="237.7" y2="246.14000000000001" stroke="#111" stroke-width="1.0" />
<text x="234.1" y="248.74" font-size="7.35" font-weight="bold" font-style="normal" text-anchor="end" fill="#000" >0.02</text>
<line x1="234.7" y1="227.98000000000002" x2="237.7" y2="227.98000000000002" stroke="#111" stroke-width="1.0" />
<text x="234.1" y="230.58" font-size="7.35" font-weight="bold" font-style="normal" text-anchor="end" fill="#000" >0.04</text>
<line x1="234.7" y1="209.82" x2="237.7" y2="209.82" stroke="#111" stroke-width="1.0" />
<text x="234.1" y="212.42" font-size="7.35" font-weight="bold" font-style="normal" text-anchor="end" fill="#000" >0.06</text>
<line x1="234.7" y1="191.66000000000003" x2="237.7" y2="191.66000000000003" stroke="#111" stroke-width="1.0" />
<text x="234.1" y="194.26000000000002" font-size="7.35" font-weight="bold" font-style="normal" text-anchor="end" fill="#000" >0.08</text>
<line x1="234.7" y1="173.5" x2="237.7" y2="173.5" stroke="#111" stroke-width="1.0" />
<text x="234.1" y="176.1" font-size="7.35" font-weight="bold" font-style="normal" text-anchor="end" fill="#000" >0.10</text>
<line x1="248.0" y1="264.3" x2="248.0" y2="267.3" stroke="#111" stroke-width="1.0" />
<text x="249.6" y="272.3" font-size="7.2" font-weight="bold" font-style="normal" text-anchor="end" fill="#000" transform="rotate(-45 249.6 272.3)" >S. epidermidis</text>
<line x1="267.4" y1="264.3" x2="267.4" y2="267.3" stroke="#111" stroke-width="1.0" />
<text x="269.0" y="272.3" font-size="7.2" font-weight="bold" font-style="normal" text-anchor="end" fill="#000" transform="rotate(-45 269.0 272.3)" >H001</text>
<line x1="286.8" y1="264.3" x2="286.8" y2="267.3" stroke="#111" stroke-width="1.0" />
<text x="288.40000000000003" y="272.3" font-size="7.2" font-weight="bold" font-style="normal" text-anchor="end" fill="#000" transform="rotate(-45 288.40000000000003 272.3)" >H002</text>
<line x1="306.2" y1="264.3" x2="306.2" y2="267.3" stroke="#111" stroke-width="1.0" />
<text x="307.8" y="272.3" font-size="7.2" font-weight="bold" font-style="normal" text-anchor="end" fill="#000" transform="rotate(-45 307.8 272.3)" >H003</text>
<line x1="325.6" y1="264.3" x2="325.6" y2="267.3" stroke="#111" stroke-width="1.0" />
<text x="327.20000000000005" y="272.3" font-size="7.2" font-weight="bold" font-style="normal" text-anchor="end" fill="#000" transform="rotate(-45 327.20000000000005 272.3)" >H006</text>
<line x1="345.0" y1="264.3" x2="345.0" y2="267.3" stroke="#111" stroke-width="1.0" />
<text x="346.6" y="272.3" font-size="7.2" font-weight="bold" font-style="normal" text-anchor="end" fill="#000" transform="rotate(-45 346.6 272.3)" >H012</text>
<line x1="364.4" y1="264.3" x2="364.4" y2="267.3" stroke="#111" stroke-width="1.0" />
<text x="366.0" y="272.3" font-size="7.2" font-weight="bold" font-style="normal" text-anchor="end" fill="#000" transform="rotate(-45 366.0 272.3)" >H013</text>
<line x1="383.79999999999995" y1="264.3" x2="383.79999999999995" y2="267.3" stroke="#111" stroke-width="1.0" />
<text x="385.4" y="272.3" font-size="7.2" font-weight="bold" font-style="normal" text-anchor="end" fill="#000" transform="rotate(-45 385.4 272.3)" >H015</text>
<text x="316.4" y="178.6" font-size="8.2" font-weight="bold" font-style="italic" text-anchor="middle" fill="#000"  textLength="69.4" lengthAdjust="spacingAndGlyphs">S. epidermidis</text>
<text x="314" y="293.7" font-size="8.1" font-weight="bold" font-style="normal" text-anchor="middle" fill="#000" >Donor</text>
<text x="213.7" y="219.3" font-size="7.4" font-weight="bold" font-style="normal" text-anchor="middle" fill="#000" transform="rotate(-90 213.7 219.3)" >Optical density at 600 nm</text>
</g>
</g>
</svg>
</body></html>
